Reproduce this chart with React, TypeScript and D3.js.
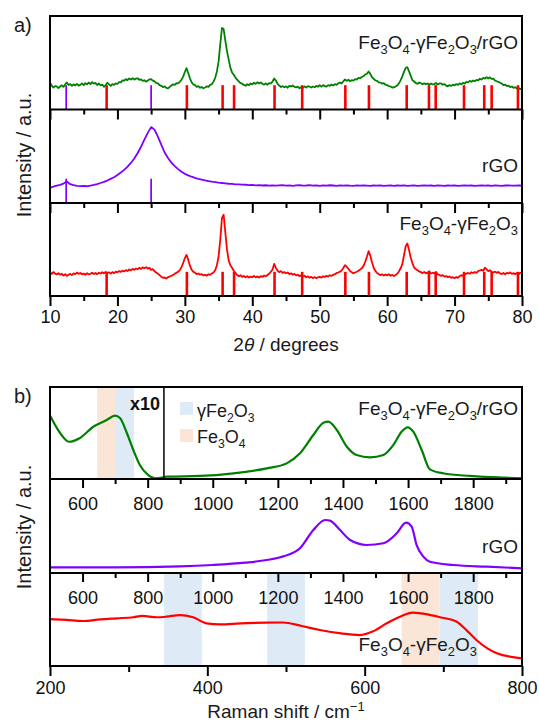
import React, { Component } from "react";
import * as d3 from "d3";

// ---------- panel a: XRD patterns ----------
const twoThetaStart = 10;
const fineStep = 0.25; // composite + oxide scans
const coarseStep = 0.5; // rGO scan

// Fe3O4-γFe2O3/rGO, 10° .. 80°
const xrdComposite = [
  29.0, 25.5, 23.4, 25.1, 24.8, 22.9, 24.6, 25.9,
  24.2, 26.8, 28.9, 26.1, 27.2, 25.4, 26.9, 25.7,
  27.4, 25.6, 26.3, 27.9, 26.1, 28.2, 27.0, 28.8,
  27.1, 29.3, 27.6, 28.4, 26.2, 27.8, 25.9, 26.6,
  24.3, 26.0, 28.7, 26.9, 25.2, 27.1, 26.4, 28.0,
  27.3, 29.4, 29.0, 31.2, 30.8, 32.5, 31.4, 33.3,
  32.0, 33.6, 31.9, 33.1, 33.4, 31.8, 32.2, 30.6,
  31.3, 29.8, 31.0, 32.2, 32.4, 30.9, 30.1, 28.4,
  28.0, 26.1, 25.3, 24.0, 24.8, 23.1, 22.6, 24.2,
  25.6, 26.9, 26.4, 28.1, 27.9, 29.6, 31.8, 35.2,
  40.1, 44.2, 39.0, 33.4, 29.2, 26.8, 26.1, 24.3,
  24.9, 23.2, 24.1, 22.7, 23.6, 24.8, 24.2, 26.4,
  27.0, 29.8, 33.9, 40.5, 51.2, 69.8, 87.2, 86.0,
  73.6, 62.5, 53.4, 44.8, 39.6, 37.1, 34.3, 31.9,
  30.1, 28.2, 27.6, 26.3, 25.4, 27.0, 26.1, 27.8,
  27.0, 28.6, 27.4, 29.1, 27.8, 29.0, 27.5, 26.6,
  27.9, 26.5, 28.3, 28.0, 29.9, 33.2, 31.0, 27.4,
  25.6, 24.1, 25.0, 23.8, 24.7, 23.3, 25.4, 24.6,
  25.8, 24.2, 23.6, 24.4, 22.6, 24.0, 23.1, 24.8,
  23.4, 25.0, 24.3, 23.5, 24.6, 23.8, 25.2, 24.4,
  25.9, 24.5, 26.1, 25.0, 24.4, 26.0, 25.3, 26.7,
  25.6, 27.1, 26.4, 28.0, 28.9, 27.8, 30.2, 32.1,
  30.6, 31.8, 30.2, 31.4, 30.9, 32.5, 32.0, 33.8,
  33.2, 34.9, 35.6, 37.4, 38.2, 40.6, 38.1, 34.7,
  32.9, 31.2, 30.6, 29.0, 28.8, 27.6, 28.1, 26.5,
  26.0, 25.1, 24.6, 23.4, 23.8, 24.5, 25.6, 28.0,
  31.2, 35.4, 40.3, 44.6, 45.2, 40.8, 35.9, 31.4,
  29.9, 28.3, 27.4, 28.9, 28.2, 26.9, 28.0, 27.1,
  27.8, 26.4, 27.9, 26.8, 27.0, 28.5, 26.6, 27.9,
  28.0, 26.5, 27.1, 25.6, 24.8, 26.1, 25.2, 26.6,
  25.8, 27.2, 26.3, 27.9, 27.0, 28.4, 27.7, 29.5,
  29.0, 30.6, 29.6, 31.0, 30.2, 31.7, 31.1, 32.9,
  32.1, 33.8, 33.0, 34.6, 33.3, 34.4, 32.7, 32.9,
  31.0, 30.2, 29.5, 28.6, 27.7, 26.2, 26.6, 25.1,
  25.5, 24.0, 24.6, 23.2, 23.8, 22.4, 23.0, 21.7,
  22.3,
];

// rGO, 10° .. 80°
const xrdRgo = [
  16.2, 17.5, 18.6, 19.4, 20.8, 23.0, 20.1, 19.0, 18.3, 18.0,
  18.4, 17.9, 18.6, 19.4, 20.3, 21.4, 22.6, 24.0, 25.8, 27.5,
  30.0, 32.6, 35.4, 38.9, 42.8, 47.6, 53.5, 60.2, 67.8, 75.0,
  81.2, 78.5, 71.0, 62.4, 54.0, 48.1, 43.2, 39.4, 36.2, 33.5,
  31.2, 29.6, 28.1, 26.9, 25.8, 24.9, 24.1, 23.5, 22.8, 22.4,
  21.7, 21.4, 21.0, 20.6, 20.4, 20.0, 19.9, 19.6, 19.5, 19.2,
  19.3, 18.9, 19.2, 18.7, 19.0, 18.6, 18.9, 18.5, 18.8, 19.1,
  18.6, 18.9, 18.4, 18.8, 19.0, 18.5, 18.7, 19.1, 18.6, 18.8,
  18.4, 18.9, 18.6, 19.0, 18.7, 18.3, 18.8, 18.5, 18.9, 18.6,
  18.4, 18.8, 18.5, 18.9, 18.6, 18.3, 18.7, 18.5, 18.9, 18.4,
  18.6, 18.8, 18.3, 18.7, 18.5, 18.9, 18.4, 18.6, 18.8, 18.3,
  18.6, 18.9, 18.5, 18.7, 18.4, 18.8, 18.6, 18.3, 18.7, 18.5,
  18.9, 18.4, 18.6, 18.8, 18.5, 18.7, 18.3, 18.6, 18.9, 18.5,
  18.7, 18.4, 18.8, 18.6, 18.3, 18.7, 18.9, 18.5, 18.6, 18.8,
  18.5,
];

// Fe3O4-γFe2O3, 10° .. 80°
const xrdOxide = [
  25.4, 23.9, 25.8, 24.1, 23.2, 24.6, 22.8, 23.9,
  21.9, 23.4, 21.6, 22.9, 23.8, 22.5, 24.3, 23.6,
  25.2, 23.9, 24.8, 23.3, 24.1, 22.8, 24.5, 23.2,
  23.9, 25.1, 23.6, 24.8, 23.5, 25.0, 24.2, 25.6,
  24.3, 25.9, 24.8, 25.5, 24.0, 25.7, 24.6, 26.2,
  25.4, 26.8, 25.9, 27.3, 26.4, 27.8, 26.9, 28.5,
  27.6, 29.2, 28.1, 29.6, 28.7, 30.3, 29.1, 30.8,
  29.8, 31.0, 29.4, 30.2, 28.1, 28.9, 26.6, 25.2,
  23.9, 22.4, 20.8, 19.6, 19.9, 18.8, 20.3, 20.9,
  21.8, 22.4, 24.0, 24.9, 26.1, 27.8, 30.9, 35.4,
  40.8, 44.2, 39.1, 32.6, 28.4, 26.0, 25.1, 23.6,
  24.2, 22.9, 23.5, 22.1, 22.8, 21.9, 23.4, 22.7,
  24.1, 25.2, 27.6, 33.0, 42.5, 60.4, 83.6, 87.4,
  68.6, 49.8, 38.4, 33.1, 30.4, 27.2, 25.0, 22.6,
  21.3, 22.4, 20.6, 21.5, 20.1, 21.2, 19.8, 20.9,
  20.2, 21.6, 20.0, 21.1, 19.9, 21.3, 20.5, 22.0,
  21.2, 22.6, 23.9, 26.1, 28.3, 34.6, 30.2, 27.4,
  25.6, 26.8, 24.9, 25.7, 24.4, 25.3, 23.6, 24.4,
  22.9, 23.8, 22.1, 22.9, 21.3, 22.4, 20.9, 21.8,
  20.2, 21.1, 19.7, 20.6, 19.2, 20.3, 19.0, 20.1,
  20.6, 19.8, 21.2, 20.4, 21.7, 20.9, 22.3, 21.6,
  22.8, 23.5, 24.6, 25.3, 26.2, 27.4, 30.1, 33.2,
  31.6, 29.3, 26.8, 25.6, 24.4, 25.3, 26.1, 27.2,
  28.4, 29.9, 32.4, 36.8, 42.1, 48.2, 43.6, 36.2,
  30.4, 27.1, 24.8, 23.6, 22.4, 23.3, 22.0, 23.1,
  22.2, 23.4, 21.8, 22.7, 21.4, 22.6, 23.9, 26.4,
  29.8, 34.2, 43.8, 53.6, 56.4, 49.3, 41.2, 35.4,
  30.6, 29.1, 27.8, 26.4, 25.7, 24.6, 25.9, 24.3,
  25.1, 26.6, 24.2, 25.0, 24.4, 25.9, 23.3, 22.6,
  21.6, 22.5, 20.9, 21.4, 20.3, 21.0, 19.6, 20.2,
  19.2, 20.4, 19.5, 21.3, 22.4, 21.6, 23.2, 24.0,
  24.8, 23.9, 25.5, 24.7, 25.9, 24.8, 26.7, 27.4,
  28.1, 27.2, 30.4, 28.6, 26.7, 27.8, 26.1, 25.3,
  26.2, 24.9, 25.8, 24.3, 23.6, 24.8, 23.4, 24.9,
  24.3, 25.4, 23.7, 24.6, 23.5, 24.7, 23.2, 25.0,
  24.5,
];

// reference reflections (stick patterns)
const rgoReflections = [12.4, 25.0];
const oxideReflections = [18.4, 30.3, 35.6, 37.3, 43.3, 47.4, 53.8, 57.3, 62.9, 66.2, 67.2, 71.4, 74.4, 75.5, 79.4];
const stickHeight = 26;

const xrdMajorTicks = [10, 20, 30, 40, 50, 60, 70, 80];
const xrdMinorTicks = [15, 25, 35, 45, 55, 65, 75];

// ---------- panel b: Raman spectra ----------
const ramanShiftComposite = [500, 531, 558, 592, 633, 674, 700, 715, 736, 756, 776, 802, 823, 848, 858, 961, 1063, 1166, 1227, 1268, 1309, 1340, 1355, 1381, 1412, 1442, 1483, 1524, 1555, 1580, 1599, 1616, 1642, 1667, 1708, 1790, 1893, 1950];
const ramanComposite = [69, 50, 40.5, 44.6, 56.8, 64.1, 68.8, 66.3, 50, 31.5, 15.2, 4.3, 0.8, 1.8, 2.5, 3.3, 6.2, 11.6, 17, 27.9, 47.8, 61.2, 62.3, 53.3, 35.1, 26.1, 23.6, 26.1, 37, 51.4, 56.2, 51.4, 31.5, 10.5, 6.2, 3.3, 1.4, 0.8];

const ramanShiftRgo = [500, 700, 900, 1000, 1100, 1166, 1220, 1268, 1309, 1345, 1360, 1391, 1422, 1473, 1524, 1565, 1594, 1611, 1626, 1647, 1667, 1739, 1842, 1950];
const ramanRgo = [6, 6, 7, 8.5, 11, 13.8, 18, 26.3, 45.7, 56.4, 55.7, 45.7, 35.1, 29.8, 31.6, 42.2, 53.5, 49.3, 30, 17.4, 12, 8.5, 6.7, 5];

const ramanShiftOxide = [200, 221, 242, 264, 285, 306, 317, 336, 348, 365, 382, 399, 416, 442, 475, 496, 520, 543, 570, 594, 610, 628, 645, 661, 680, 696, 717, 730, 742, 768, 800];
const ramanOxide = [50.5, 49.5, 48.4, 50.2, 51.3, 52.4, 53.8, 52.4, 53, 54.8, 52.4, 45.9, 44.8, 45.9, 46.6, 46.8, 43, 38.7, 35, 33.3, 37, 45.9, 53, 57.3, 55.5, 52.4, 47.6, 38, 28, 13.7, 8.3];

const ramanMajorTicks = [600, 800, 1000, 1200, 1400, 1600, 1800];
const ramanMinorTicks = [700, 900, 1100, 1300, 1500, 1700, 1900];
const lowMajorTicks = [200, 400, 600, 800];
const lowMinorTicks = [300, 500, 700];

// highlighted phase bands (cm-1)
const fe3o4BandsTop = [[645, 700]];
const maghemiteBandsTop = [[700, 758]];
const fe3o4BandsLow = [[647, 695]];
const maghemiteBandsLow = [[345, 393], [476, 524], [695, 744]];
const insetEnd = 850; // left part of top spectrum is x10

const FONT = "'Liberation Sans', Arial, sans-serif";
const GREEN = "#008000";
const PURPLE = "#8000ff";
const RED = "#ff0000";
const FE3O4_FILL = "#fbe5d6";
const MAGHEMITE_FILL = "#deebf7";

class App extends Component {
  svgRef = React.createRef<SVGSVGElement>();

  componentDidMount() {
    this.renderChart();
  }

  componentDidUpdate() {
    this.renderChart();
  }

  renderChart() {
    const svg = d3.select(this.svgRef.current);
    svg.selectAll("*").remove();

    const left = 50, right = 522;
    const a = { top: 16, s1: 109.5, s2: 203, bottom: 296 };
    const b = { top: 387, s1: 479, s2: 573, bottom: 666 };

    // x scales
    const xA = d3.scaleLinear().domain([10, 80]).range([left, right]);
    const xB = d3.scaleLinear().domain([500, 1950]).range([left, right]);
    const xC = d3.scaleLinear().domain([200, 800]).range([left, right]);

    // each stacked sub-panel gets its own intensity scale
    const yBand = (top, bottom) => d3.scaleLinear().domain([0, 100]).range([bottom, top]);
    const yA1 = yBand(a.top, a.s1), yA2 = yBand(a.s1, a.s2), yA3 = yBand(a.s2, a.bottom);
    const yB1 = yBand(b.top, b.s1), yB2 = yBand(b.s1, b.s2), yB3 = yBand(b.s2, b.bottom);

    // phase bands
    const drawBands = (list, x, top, bottom, fill) => {
      svg.append("g")
        .selectAll("rect")
        .data(list)
        .join("rect")
        .attr("x", d => x(d[0]))
        .attr("width", d => x(d[1]) - x(d[0]))
        .attr("y", top)
        .attr("height", bottom - top)
        .attr("fill", fill);
    };
    drawBands(fe3o4BandsTop, xB, b.top, b.s1, FE3O4_FILL);
    drawBands(maghemiteBandsTop, xB, b.top, b.s1, MAGHEMITE_FILL);
    drawBands(fe3o4BandsLow, xC, b.s2, b.bottom, FE3O4_FILL);
    drawBands(maghemiteBandsLow, xC, b.s2, b.bottom, MAGHEMITE_FILL);

    // XRD curves
    const grid = (vals, step) => vals.map((v, i) => [twoThetaStart + i * step, v]);
    const drawPath = (pts, x, y, color, width, curve) => {
      const line = d3.line().x(d => x(d[0])).y(d => y(d[1])).curve(curve);
      svg.append("path")
        .datum(pts)
        .attr("d", line)
        .attr("fill", "none")
        .attr("stroke", color)
        .attr("stroke-width", width)
        .attr("stroke-linejoin", "round");
    };
    drawPath(grid(xrdComposite, fineStep), xA, yA1, GREEN, 1.8, d3.curveLinear);
    drawPath(grid(xrdRgo, coarseStep), xA, yA2, PURPLE, 1.8, d3.curveLinear);
    drawPath(grid(xrdOxide, fineStep), xA, yA3, RED, 1.8, d3.curveLinear);

    // stick patterns
    const drawSticks = (list, y, color, width) => {
      svg.append("g")
        .selectAll("line")
        .data(list)
        .join("line")
        .attr("x1", d => xA(d))
        .attr("x2", d => xA(d))
        .attr("y1", y(0))
        .attr("y2", y(stickHeight))
        .attr("stroke", color)
        .attr("stroke-width", width);
    };
    drawSticks(rgoReflections, yA1, PURPLE, 1.7);
    drawSticks(oxideReflections, yA1, RED, 2.6);
    drawSticks(rgoReflections, yA2, PURPLE, 1.7);
    drawSticks(oxideReflections, yA3, RED, 2.6);

    // Raman curves
    const zip = (xs, ys) => xs.map((v, i) => [v, ys[i]]);
    drawPath(zip(ramanShiftComposite, ramanComposite), xB, yB1, GREEN, 2.2, d3.curveMonotoneX);
    drawPath(zip(ramanShiftRgo, ramanRgo), xB, yB2, PURPLE, 2.2, d3.curveMonotoneX);
    drawPath(zip(ramanShiftOxide, ramanOxide), xC, yB3, RED, 2.2, d3.curveMonotoneX);

    // x10 inset boundary
    svg.append("line")
      .attr("x1", xB(insetEnd)).attr("x2", xB(insetEnd))
      .attr("y1", b.top).attr("y2", b.s1)
      .attr("stroke", "#000").attr("stroke-width", 1.5);

    // frames
    [a, b].forEach(p => {
      svg.append("rect")
        .attr("x", left).attr("y", p.top)
        .attr("width", right - left).attr("height", p.bottom - p.top)
        .attr("fill", "none").attr("stroke", "#000").attr("stroke-width", 2);
      [p.s1, p.s2].forEach(s => {
        svg.append("line")
          .attr("x1", left).attr("x2", right)
          .attr("y1", s).attr("y2", s)
          .attr("stroke", "#000").attr("stroke-width", 2);
      });
    });

    // ticks (all pointing down)
    const drawTicks = (scale, y, major, minor, majorLen, minorLen, pad, labels) => {
      const g = svg.append("g").attr("transform", `translate(0,${y})`);
      g.append("g").call(
        d3.axisBottom(scale).tickValues(major).tickSize(majorLen).tickSizeOuter(0)
          .tickPadding(pad).tickFormat(labels ? d3.format("d") : () => "")
      );
      g.append("g").call(
        d3.axisBottom(scale).tickValues(minor).tickSize(minorLen).tickSizeOuter(0).tickFormat(() => "")
      );
      g.selectAll(".domain").remove();
      g.selectAll("line").attr("stroke", "#000").attr("stroke-width", 2);
      g.selectAll("text").attr("font-size", 18).attr("font-family", FONT).attr("fill", "#111");
    };
    drawTicks(xA, a.s1, xrdMajorTicks, xrdMinorTicks, 10, 5, 0, false);
    drawTicks(xA, a.s2, xrdMajorTicks, xrdMinorTicks, 10, 5, 0, false);
    drawTicks(xA, a.bottom, xrdMajorTicks, xrdMinorTicks, 10, 5, 4, true);
    drawTicks(xB, b.s1, ramanMajorTicks, ramanMinorTicks, 9, 5, 9.7, true);
    drawTicks(xB, b.s2, ramanMajorTicks, ramanMinorTicks, 9, 5, 9.7, true);
    drawTicks(xC, b.bottom, lowMajorTicks, lowMinorTicks, 10, 6, 5, true);

    // text helpers
    const formula = (str, x, y, size, anchor) => {
      const t = svg.append("text")
        .attr("x", x).attr("y", y)
        .attr("text-anchor", anchor)
        .attr("font-size", size)
        .attr("font-family", FONT)
        .attr("fill", "#1a1a1a");
      const parts = str.split(/_(\d)/);
      let low = false;
      parts.forEach((p, i) => {
        if (!p) return;
        const ts = t.append("tspan").text(p);
        if (i % 2 === 1) {
          ts.attr("font-size", size * 0.68);
          if (!low) ts.attr("dy", size * 0.26);
          low = true;
        } else {
          if (low) ts.attr("dy", -size * 0.26);
          low = false;
        }
      });
      return t;
    };

    formula("Fe_3O_4-γFe_2O_3/rGO", 518, 49, 19, "end");
    formula("rGO", 518, 172, 19, "end");
    formula("Fe_3O_4-γFe_2O_3", 518, 230, 19, "end");
    formula("Fe_3O_4-γFe_2O_3/rGO", 518, 415, 19, "end");
    formula("rGO", 518, 553, 19, "end");
    formula("Fe_3O_4-γFe_2O_3", 477, 651, 19, "end");

    // legend for the bands
    svg.append("rect").attr("x", 180).attr("y", 402).attr("width", 13).attr("height", 13).attr("fill", MAGHEMITE_FILL);
    svg.append("rect").attr("x", 180).attr("y", 429).attr("width", 13).attr("height", 13).attr("fill", FE3O4_FILL);
    formula("γFe_2O_3", 197, 417, 18, "start");
    formula("Fe_3O_4", 197, 443, 18, "start");

    svg.append("text")
      .attr("x", 160).attr("y", 410)
      .attr("text-anchor", "end")
      .attr("font-size", 18).attr("font-weight", "bold")
      .attr("font-family", FONT).attr("fill", "#111")
      .text("x10");

    // panel letters
    svg.append("text").attr("x", 14).attr("y", 32).attr("font-size", 20).attr("font-family", FONT).attr("fill", "#1a1a1a").text("a)");
    svg.append("text").attr("x", 14).attr("y", 403).attr("font-size", 20).attr("font-family", FONT).attr("fill", "#1a1a1a").text("b)");

    // axis titles
    [155, 527].forEach(cy => {
      svg.append("text")
        .attr("transform", `translate(31,${cy}) rotate(-90)`)
        .attr("text-anchor", "middle")
        .attr("font-size", 20)
        .attr("font-family", FONT)
        .attr("fill", "#1a1a1a")
        .text("Intensity / a.u.");
    });

    const tt = svg.append("text")
      .attr("x", (left + right) / 2).attr("y", 351)
      .attr("text-anchor", "middle")
      .attr("font-size", 19).attr("font-family", FONT).attr("fill", "#1a1a1a");
    tt.append("tspan").text("2");
    tt.append("tspan").attr("font-style", "italic").text("θ");
    tt.append("tspan").text(" / degrees");

    const rt = svg.append("text")
      .attr("x", (left + right) / 2).attr("y", 718)
      .attr("text-anchor", "middle")
      .attr("font-size", 19).attr("font-family", FONT).attr("fill", "#1a1a1a");
    rt.append("tspan").text("Raman shift / cm");
    rt.append("tspan").attr("font-size", 13).attr("dy", -7).text("−1");
  }

  render() {
    return (
      <svg
        ref={this.svgRef}
        width={539}
        height={725}
        style={{ position: "absolute", left: 0, top: 0, background: "#fff" }}
      />
    );
  }
}

export default App;
